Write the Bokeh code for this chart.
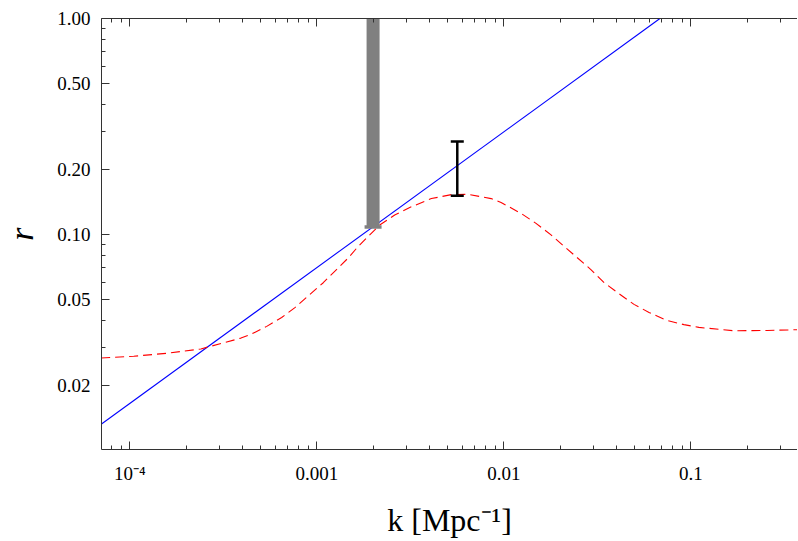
from bokeh.plotting import figure
from bokeh.models import (Range1d, FixedTicker, LogAxis, CustomJSTickFormatter,
                          PrintfTickFormatter)
from bokeh.embed import file_html
from bokeh.resources import INLINE

# ---------------- data ----------------
blue_k = [7.06e-5, 0.0684]
blue_r = [0.0132, 1.0]

red_k = [7.03e-5, 1.05e-4, 1.6e-4, 2.4e-4, 3.93e-4, 4.49e-4, 5.40e-4, 6.49e-4,
         7.64e-4, 9.19e-4, 1.083e-3, 1.275e-3, 1.472e-3, 1.665e-3, 1.92e-3,
         2.17e-3, 2.61e-3, 3.20e-3, 4.10e-3, 5.24e-3, 6.43e-3, 8.56e-3,
         9.67e-3, 1.237e-2, 1.487e-2, 1.788e-2, 2.105e-2, 2.481e-2, 2.922e-2,
         3.44e-2, 4.135e-2, 4.97e-2, 5.98e-2, 7.34e-2, 9.19e-2, 0.1105,
         0.169, 0.257, 0.372]
red_r = [0.0267, 0.0272, 0.0281, 0.0294, 0.0330, 0.0345, 0.0374, 0.0411,
         0.0457, 0.0526, 0.0596, 0.0686, 0.0776, 0.0878, 0.0993,
         0.1103, 0.1227, 0.1340, 0.1463, 0.1526, 0.1531, 0.1463,
         0.1403, 0.1249, 0.1123, 0.0993, 0.0878, 0.0776, 0.0686,
         0.0596, 0.0530, 0.0473, 0.0434, 0.0400, 0.0381, 0.0370,
         0.0357, 0.0358, 0.0361]

gray_k = [0.002]
gray_lo = [0.108]
gray_hi = [1.0]

err_k = [0.00564]
err_lo = [0.1506]
err_hi = [0.269]

x_ticks = [1e-4, 1e-3, 1e-2, 1e-1]
x_tick_labels = ["10\u207b\u2074", "0.001", "0.01", "0.1"]
x_minor = [8e-5, 9e-5, 2e-4, 3e-4, 4e-4, 5e-4, 6e-4, 7e-4, 8e-4, 9e-4,
           2e-3, 3e-3, 4e-3, 5e-3, 6e-3, 7e-3, 8e-3, 9e-3,
           2e-2, 3e-2, 4e-2, 5e-2, 6e-2, 7e-2, 8e-2, 9e-2, 0.2, 0.3]
y_ticks = [0.02, 0.05, 0.1, 0.2, 0.5, 1.0]
y_minor = [0.01, 0.02, 0.03, 0.04, 0.05, 0.06, 0.07, 0.08, 0.09,
           0.1, 0.2, 0.3, 0.4, 0.5, 0.6, 0.7, 0.8, 0.9]

FONT = "Liberation Serif"
AXC = "#333333"

p = figure(width=797, height=540, x_axis_type="log", y_axis_type="log",
           x_range=Range1d(7.06e-5, 0.372), y_range=Range1d(0.01005, 1.0),
           output_backend="svg", toolbar_location=None, tools="")
p.min_border = 0
p.min_border_left = 99
p.min_border_right = 0
p.min_border_top = 18
p.min_border_bottom = 87
p.grid.visible = False
p.outline_line_color = None
p.background_fill_color = "white"
p.border_fill_color = "white"

xt = FixedTicker(ticks=x_ticks, minor_ticks=x_minor)
yt = FixedTicker(ticks=y_ticks, minor_ticks=y_minor)
xfmt = CustomJSTickFormatter(args=dict(tvals=x_ticks, tlabels=x_tick_labels), code="""
for (let i = 0; i < tvals.length; i++) {
  if (Math.abs(Math.log10(tick) - Math.log10(tvals[i])) < 1e-6) return tlabels[i];
}
return '';
""")

def style_axis(ax):
    ax.axis_line_color = AXC
    ax.axis_line_width = 1
    ax.major_tick_line_color = AXC
    ax.minor_tick_line_color = AXC
    ax.major_tick_in = 8
    ax.major_tick_out = 0
    ax.minor_tick_in = 4
    ax.minor_tick_out = 0
    ax.major_label_text_font = FONT
    ax.major_label_text_font_size = "19px"
    ax.major_label_text_color = "black"
    ax.axis_label_text_font = FONT
    ax.axis_label_text_font_style = "normal"
    ax.axis_label_text_color = "black"

xa = p.xaxis[0]
xa.ticker = xt
xa.formatter = xfmt
style_axis(xa)
xa.major_label_standoff = 13
xa.axis_label = "k [Mpc\u207b\u00b9]"
xa.axis_label_text_font_size = "32px"
xa.axis_label_standoff = 15

ya = p.yaxis[0]
ya.ticker = yt
ya.formatter = PrintfTickFormatter(format="%.2f")
style_axis(ya)
ya.major_label_standoff = 11
ya.axis_label = "r"
ya.axis_label_text_font_size = "34px"
ya.axis_label_text_font_style = "italic"
ya.axis_label_standoff = 14

top = LogAxis(ticker=FixedTicker(ticks=x_ticks, minor_ticks=x_minor))
style_axis(top)
top.major_label_text_font_size = "1px"
top.major_label_text_alpha = 0
top.major_label_standoff = 0
p.add_layout(top, "above")

# curves
p.line(blue_k, blue_r, line_color="#0000FF", line_width=1.1)
p.line(red_k, red_r, line_color="#FF0000", line_width=1.1, line_dash="9 5")

# gray bar
p.segment(x0=gray_k, y0=gray_lo, x1=gray_k, y1=[h * 1.5 for h in gray_hi],
          line_color="#808080", line_width=13)
p.scatter(gray_k, gray_lo, marker="dash", size=17, line_width=3.5,
          line_color="#808080")

# black error bar
p.segment(x0=err_k, y0=err_lo, x1=err_k, y1=err_hi, line_color="black",
          line_width=2.5)
p.scatter(err_k + err_k, err_lo + err_hi, marker="dash", size=13,
          line_width=2.5, line_color="black")

open("out.html", "w").write(file_html(p, INLINE))
